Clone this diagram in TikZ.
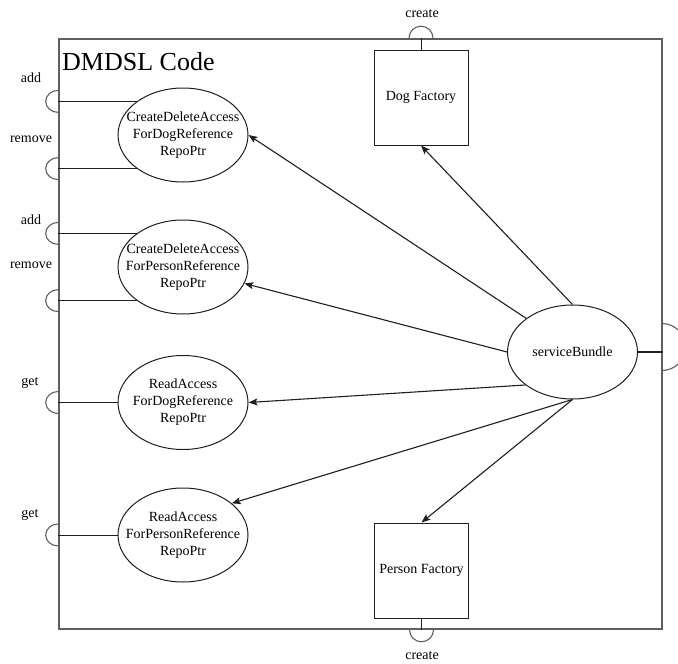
\documentclass[tikz,border=0pt]{standalone}
\usepackage{fontspec}
\setmainfont{Liberation Serif}
\usetikzlibrary{shapes.geometric,arrows.meta}

\definecolor{framegray}{RGB}{95,95,95}
\definecolor{inkgray}{RGB}{30,30,30}

\tikzset{
  txt/.style={font=\fontsize{14}{17}\selectfont, align=center, inner sep=0pt},
  ell/.style={ellipse, draw=inkgray, line width=1pt, minimum width=130pt, minimum height=94pt, inner sep=0pt},
  factory/.style={rectangle, draw=inkgray, line width=1pt, minimum width=94pt, minimum height=95pt, inner sep=0pt},
  boundary/.style={rectangle, draw=framegray, line width=1.6pt, minimum width=603pt, minimum height=590pt, inner sep=0pt},
  wire/.style={draw=inkgray, line width=1pt},
  port/.style={draw=framegray, line width=1.1pt},
  link/.style={draw=inkgray, line width=1.1pt, -{Stealth[length=9pt,width=7pt,inset=2pt]}}
}

\begin{document}
\begin{tikzpicture}[x=1pt,y=-1pt]
  \useasboundingbox (0,0) rectangle (678,664);

  % component boundary
  \node[boundary] (fr) at (360.5,334) {};
  \node[anchor=base west, inner sep=0pt, font=\fontsize{26}{30}\selectfont] (title) at (62,70) {DMDSL Code};

  % inner parts
  \node[ell] (e1) at (183,135) {};
  \node[txt] (t1) at (e1) {CreateDeleteAccess\\ForDogReference\\RepoPtr};
  \node[ell] (e2) at (183,267) {};
  \node[txt] (t2) at (e2) {CreateDeleteAccess\\ForPersonReference\\RepoPtr};
  \node[ell] (e3) at (183,402.5) {};
  \node[txt] (t3) at (e3) {ReadAccess\\ForDogReference\\RepoPtr};
  \node[ell] (e4) at (183,535) {};
  \node[txt] (t4) at (e4) {ReadAccess\\ForPersonReference\\RepoPtr};

  \node[factory] (dog) at (421,97.5) {};
  \node[txt] (tdog) at (dog) {Dog Factory};
  \node[factory] (pf) at (421.5,570.5) {};
  \node[txt] (tpf) at (pf) {Person Factory};

  \node[ell] (sb) at (572.5,352) {};
  \node[txt] (tsb) at (sb) {serviceBundle};

  % port attachment points on the boundary
  \coordinate (pa1) at (e1.144 -| fr.west);
  \coordinate (pr1) at (e1.216 -| fr.west);
  \coordinate (pa2) at (e2.144 -| fr.west);
  \coordinate (pr2) at (e2.216 -| fr.west);
  \coordinate (pg1) at (e3.west -| fr.west);
  \coordinate (pg2) at (e4.west -| fr.west);
  \coordinate (pdog) at (dog.north |- fr.north);
  \coordinate (ppf) at (pf.south |- fr.south);
  \coordinate (psb) at (sb.east -| fr.east);
  \coordinate (pright) at (662,347);

  % delegation wires to the ports
  \draw[wire] (e1.144) -- (pa1);
  \draw[wire] (e1.216) -- (pr1);
  \draw[wire] (e2.144) -- (pa2);
  \draw[wire] (e2.216) -- (pr2);
  \draw[wire] (e3.west) -- (pg1);
  \draw[wire] (e4.west) -- (pg2);
  \draw[wire] (dog.north) -- (pdog);
  \draw[wire] (pf.south) -- (ppf);
  \draw[draw=inkgray, line width=2.2pt] (sb.east) -- (psb);

  % port half-circles on the left side
  \foreach \p in {pa1,pr1,pa2,pr2,pg1,pg2}{
    \draw[port] ([yshift=-11pt]\p) arc[start angle=90, end angle=270, x radius=12.5, y radius=11];
  }
  % top and bottom ports
  \draw[port] ([xshift=-12pt]pdog) arc[start angle=180, end angle=360, radius=12];
  \draw[port] ([xshift=-12pt]ppf) arc[start angle=180, end angle=0, radius=12];
  % provided port on the right side
  \draw[port] ([yshift=23.5pt]pright) arc[start angle=-90, end angle=90, radius=23.5];

  % port labels
  \node[txt] (la1) at (31,78) {add};
  \node[txt] (lr1) at (31,139) {remove};
  \node[txt] (la2) at (31,220) {add};
  \node[txt] (lr2) at (31,265) {remove};
  \node[txt] (lg1) at (30,383) {get};
  \node[txt] (lg2) at (30,515) {get};
  \node[txt] (lc1) at (422,14) {create};
  \node[txt] (lc2) at (422,656) {create};

  % dependencies from the service bundle
  \draw[link] (sb.144) -- (e1.east);
  \draw[link] (sb.north) -- (dog.south);
  \draw[link] (sb.west) -- (e2.-15);
  \draw[link] (sb.215) -- (e3.east);
  \draw[link] (sb.south) -- (e4.33);
  \draw[link] (sb.south) -- (pf.north);
\end{tikzpicture}
\end{document}
